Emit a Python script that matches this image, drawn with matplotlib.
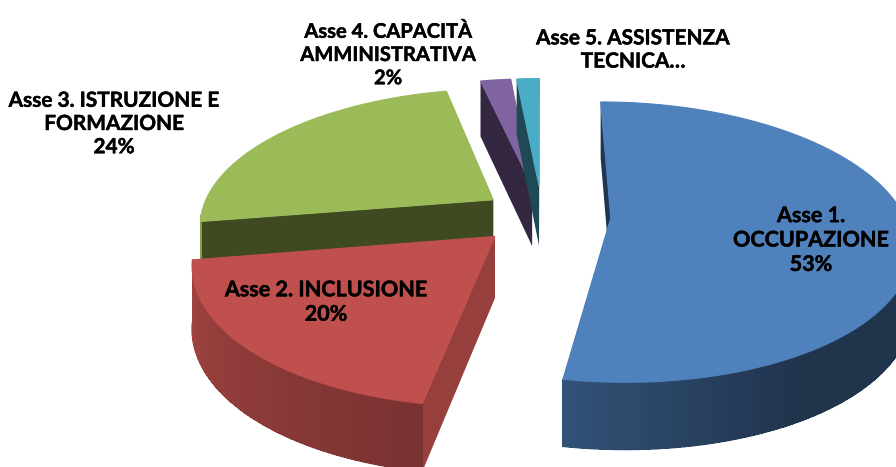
#!/usr/bin/python3

import numpy as np
import matplotlib
matplotlib.use('Agg')
import matplotlib.pyplot as plt
import matplotlib.patheffects as pe

# data
axes_names = ['Asse 1.\nOCCUPAZIONE', 'Asse 2. INCLUSIONE',
              'Asse 3. ISTRUZIONE E\nFORMAZIONE',
              'Asse 4. CAPACITÀ\nAMMINISTRATIVA', 'Asse 5. ASSISTENZA\nTECNICA…']
shares = [52.8, 19.6, 24.1, 2.0, 1.5]
show_percent = [True, True, True, True, False]

# look
colors = ['#4f81bd', '#c0504d', '#9bbb59', '#8064a2', '#4bacc6']
cut_colors = ['#1f3551', '#963f3c', '#3f4a22', '#342840', '#1f4a55']
explode = [0.235, 0.22, 0.205, 0.225, 0.225]
radius = [1, 0.985, 1, 1, 1]
draw_order = [3, 4, 0, 2, 1]
label_pos = [(811, 240), (326, 302), (114, 124), (388, 55), (633, 50)]
label_size = [15.5, 15.5, 15, 14.5, 15]

# projection of the pie plane to the picture
CX, CY = 542, 215
SX, SY = 293, 135
K = 0.173
DEPTH = 61


def project(x, y):
    w = 1 + K * y
    return CX + SX * x / w, CY - SY * y / w


def depth_at(y):
    return DEPTH / np.sqrt(1 + K * y)


def rim_shade(deg):
    return np.interp(deg, [-172, -100, -60, 0], [0.85, 0.63, 0.4, 0.4])


def darker(color, f):
    return tuple(c * f for c in matplotlib.colors.to_rgb(color))


def draw_slice(ax, start, stop, off, rad, color, cut_color):
    mid = np.radians((start + stop) / 2)
    ox, oy = off * np.cos(mid), off * np.sin(mid)
    deg = np.linspace(start, stop, max(int(abs(stop - start) / 1.5), 2) + 1)
    xs = ox + rad * np.cos(np.radians(deg))
    ys = oy + rad * np.sin(np.radians(deg))

    # flat cut faces
    for i in (0, -1):
        wx = np.array([ox, xs[i]])
        wy = np.array([oy, ys[i]])
        px, py = project(wx, wy)
        d = depth_at(wy)
        ax.fill([px[0], px[1], px[1], px[0]],
                [py[0], py[1], py[1] + d[1], py[0] + d[0]],
                color=cut_color, lw=0, zorder=ax.zcount)
        ax.zcount += 1

    # outer rim, only the part that faces us
    px, py = project(xs, ys)
    d = depth_at(ys)
    for i in range(len(deg) - 1):
        a = (deg[i] + deg[i + 1]) / 2
        a = (a + 180) % 360 - 180
        if a > 0 or a < -173:
            continue
        c = darker(color, rim_shade(a))
        ax.fill([px[i], px[i + 1], px[i + 1], px[i]],
                [py[i], py[i + 1], py[i + 1] + d[i + 1], py[i] + d[i]],
                color=c, lw=0, antialiased=False, zorder=ax.zcount)
        ax.plot([px[i], px[i + 1]], [py[i] + d[i], py[i + 1] + d[i + 1]],
                color=c, lw=1, solid_capstyle='round', zorder=ax.zcount)
    ax.zcount += 1

    # top
    ax0, ay0 = project(ox, oy)
    ax.fill(np.r_[ax0, px], np.r_[ay0, py], color=color, lw=0.8, zorder=ax.zcount)
    ax.zcount += 1


if __name__ == '__main__':
    plt.rcParams['font.family'] = ['Lato', 'DejaVu Sans']
    fig = plt.figure(figsize=(8.96, 4.67), dpi=100)
    ax = fig.add_axes([0, 0, 1, 1])
    ax.set_xlim(0, 896)
    ax.set_ylim(467, 0)
    ax.axis('off')
    ax.zcount = 1

    total = sum(shares)
    edges = 90 - 360 * np.cumsum([0] + shares) / total
    for n in draw_order:
        draw_slice(ax, edges[n], edges[n + 1], explode[n], radius[n],
                   colors[n], cut_colors[n])

    for name, share, show, pos, size in zip(axes_names, shares, show_percent,
                                             label_pos, label_size):
        txt = name + '\n%.0f%%' % share if show else name
        t = ax.text(pos[0], pos[1], txt, ha='center', va='center', fontsize=size,
                    fontweight='bold', color='black', linespacing=1.2, zorder=100)
        t.set_path_effects([pe.withStroke(linewidth=0.3, foreground='black')])

    fig.savefig('out.png', dpi=100)
